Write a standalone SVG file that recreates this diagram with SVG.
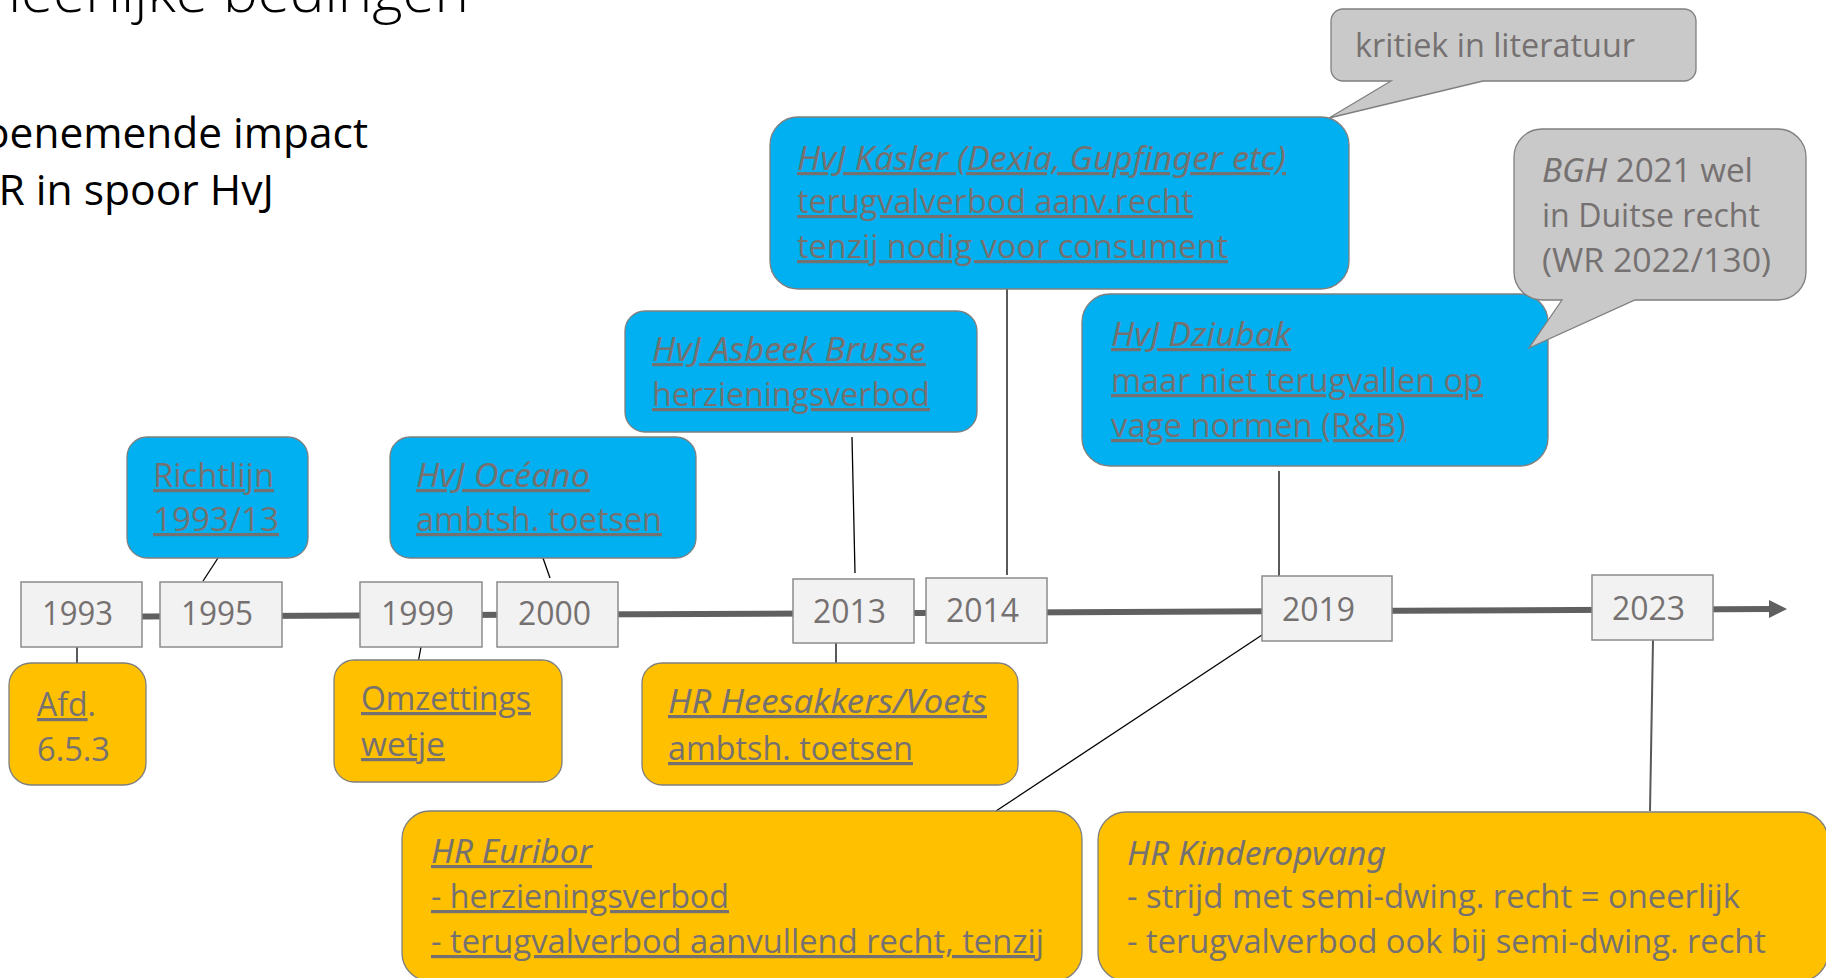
<svg xmlns="http://www.w3.org/2000/svg" width="1826" height="978" viewBox="0 0 1826 978">
<style>
.t{font-family:"Open Sans","Liberation Sans",sans-serif;font-size:32px;fill:#767171}
.u{text-decoration:underline;text-decoration-skip-ink:none}
.i{font-style:italic;font-family:"Noto Sans","Open Sans","Liberation Sans",sans-serif}
.blue{fill:#00B0F0;stroke:#7F7F7F;stroke-width:1.3}
.org{fill:#FFC000;stroke:#7F7F7F;stroke-width:1.3}
.yr{fill:#F2F2F2;stroke:#8C8C8C;stroke-width:1.5}
.cal{fill:#C9C9C9;stroke:#7F7F7F;stroke-width:1.3}
.c{stroke:#000;stroke-width:1.3;fill:none}
.cg{stroke:#595959;stroke-width:2;fill:none}
.h{font-family:"Open Sans","Liberation Sans",sans-serif;fill:#000}
</style>
<g id="heading">
<text class="h" x="-58" y="12" font-size="57" font-weight="300" textLength="527" lengthAdjust="spacingAndGlyphs">Oneerlijke bedingen</text>
<text class="h" x="-31" y="148" font-size="42" textLength="399" lengthAdjust="spacingAndGlyphs">toenemende impact</text>
<text class="h" x="-33" y="205" font-size="42" textLength="307" lengthAdjust="spacingAndGlyphs">HR in spoor HvJ</text>
</g>
<g id="timeline">
<line x1="30" y1="617" x2="1771" y2="609" stroke="#606060" stroke-width="6"/>
<polygon points="1769,600 1787,609 1769,618" fill="#606060"/>
</g>
<g id="connectors">
<line class="c" x1="77" y1="647" x2="77" y2="663"/>
<line class="c" x1="218" y1="558" x2="203" y2="581"/>
<line class="c" x1="421" y1="647" x2="418" y2="663"/>
<line class="c" x1="543" y1="558" x2="550" y2="578"/>
<line class="c" x1="852" y1="437" x2="855" y2="573"/>
<line class="c" x1="836" y1="643" x2="836" y2="665"/>
<line class="cg" x1="1007" y1="289" x2="1007" y2="575"/>
<line class="c" x1="1279" y1="471" x2="1279" y2="576"/>
<line class="c" x1="1262" y1="635" x2="996" y2="811"/>
<line class="cg" x1="1653" y1="640" x2="1650" y2="811"/>
</g>
<g id="y1993"><rect class="yr" x="21" y="582" width="121" height="65"/><text class="t" x="42" y="625" textLength="71" lengthAdjust="spacingAndGlyphs">1993</text></g>
<g id="y1995"><rect class="yr" x="160" y="582" width="122" height="65"/><text class="t" x="181" y="625" textLength="72" lengthAdjust="spacingAndGlyphs">1995</text></g>
<g id="y1999"><rect class="yr" x="360" y="582" width="122" height="65"/><text class="t" x="381" y="625" textLength="73" lengthAdjust="spacingAndGlyphs">1999</text></g>
<g id="y2000"><rect class="yr" x="497" y="582" width="121" height="65"/><text class="t" x="518" y="625" textLength="73" lengthAdjust="spacingAndGlyphs">2000</text></g>
<g id="y2013"><rect class="yr" x="793" y="579" width="121" height="64"/><text class="t" x="813" y="623" textLength="73" lengthAdjust="spacingAndGlyphs">2013</text></g>
<g id="y2014"><rect class="yr" x="926" y="578" width="121" height="65"/><text class="t" x="946" y="622" textLength="73" lengthAdjust="spacingAndGlyphs">2014</text></g>
<g id="y2019"><rect class="yr" x="1262" y="576" width="130" height="65"/><text class="t" x="1282" y="621" textLength="73" lengthAdjust="spacingAndGlyphs">2019</text></g>
<g id="y2023"><rect class="yr" x="1592" y="575" width="121" height="65"/><text class="t" x="1612" y="620" textLength="73" lengthAdjust="spacingAndGlyphs">2023</text></g>
<g id="richtlijn"><rect class="blue" x="127" y="437" width="181" height="121" rx="20"/>
<text class="t u" x="153" y="487" textLength="121" lengthAdjust="spacingAndGlyphs">Richtlijn</text>
<text class="t u" x="153" y="531" textLength="126" lengthAdjust="spacingAndGlyphs">1993/13</text></g>
<g id="oceano"><rect class="blue" x="390" y="437" width="306" height="121" rx="20"/>
<text class="t u i" x="416" y="487" textLength="174" lengthAdjust="spacingAndGlyphs">HvJ Océano</text>
<text class="t u" x="416" y="531" textLength="246" lengthAdjust="spacingAndGlyphs">ambtsh. toetsen</text></g>
<g id="asbeek"><rect class="blue" x="625" y="311" width="352" height="121" rx="20"/>
<text class="t u i" x="652" y="361" textLength="274" lengthAdjust="spacingAndGlyphs">HvJ Asbeek Brusse</text>
<text class="t u" x="652" y="406" textLength="278" lengthAdjust="spacingAndGlyphs">herzieningsverbod</text></g>
<g id="kasler"><rect class="blue" x="770" y="117" width="579" height="172" rx="28"/>
<text class="t u i" x="797" y="170" textLength="489" lengthAdjust="spacingAndGlyphs">HvJ Kásler (Dexia, Gupfinger etc)</text>
<text class="t u" x="797" y="213" textLength="396" lengthAdjust="spacingAndGlyphs">terugvalverbod aanv.recht</text>
<text class="t u" x="797" y="258" textLength="431" lengthAdjust="spacingAndGlyphs">tenzij nodig voor consument</text></g>
<g id="dziubak"><rect class="blue" x="1082" y="294" width="466" height="172" rx="28"/>
<text class="t u i" x="1111" y="346" textLength="180" lengthAdjust="spacingAndGlyphs">HvJ Dziubak</text>
<text class="t u" x="1111" y="392" textLength="372" lengthAdjust="spacingAndGlyphs">maar niet terugvallen op</text>
<text class="t u" x="1111" y="437" textLength="295" lengthAdjust="spacingAndGlyphs">vage normen (R&amp;B)</text></g>
<g id="kritiek"><path class="cal" d="M1343,9 H1684 A12,12 0 0 1 1696,21 V69 A12,12 0 0 1 1684,81 H1483 L1329,118 L1391,81 H1343 A12,12 0 0 1 1331,69 V21 A12,12 0 0 1 1343,9 Z"/>
<text class="t" x="1355" y="57" textLength="280" lengthAdjust="spacingAndGlyphs">kritiek in literatuur</text></g>
<g id="bgh"><path class="cal" d="M1542,129 H1778 A28,28 0 0 1 1806,157 V272 A28,28 0 0 1 1778,300 H1635 L1529,348 L1562,300 H1542 A28,28 0 0 1 1514,272 V157 A28,28 0 0 1 1542,129 Z"/>
<text class="t" x="1542" y="182" textLength="211" lengthAdjust="spacingAndGlyphs"><tspan class="i">BGH</tspan> 2021 wel</text>
<text class="t" x="1542" y="227" textLength="218" lengthAdjust="spacingAndGlyphs">in Duitse recht</text>
<text class="t" x="1542" y="272" textLength="229" lengthAdjust="spacingAndGlyphs">(WR 2022/130)</text></g>
<g id="afd"><rect class="org" x="9" y="663" width="137" height="122" rx="22"/>
<text class="t" x="37" y="716" textLength="59" lengthAdjust="spacingAndGlyphs"><tspan class="u">Afd</tspan>.</text>
<text class="t" x="37" y="761" textLength="73" lengthAdjust="spacingAndGlyphs">6.5.3</text></g>
<g id="omzettings"><rect class="org" x="334" y="660" width="228" height="122" rx="20"/>
<text class="t u" x="361" y="710" textLength="170" lengthAdjust="spacingAndGlyphs">Omzettings</text>
<text class="t u" x="361" y="756" textLength="84" lengthAdjust="spacingAndGlyphs">wetje</text></g>
<g id="heesakkers"><rect class="org" x="642" y="663" width="376" height="122" rx="20"/>
<text class="t u i" x="668" y="713" textLength="319" lengthAdjust="spacingAndGlyphs">HR Heesakkers/Voets</text>
<text class="t u" x="668" y="760" textLength="245" lengthAdjust="spacingAndGlyphs">ambtsh. toetsen</text></g>
<g id="euribor"><rect class="org" x="402" y="811" width="680" height="170" rx="28"/>
<text class="t u i" x="431" y="863" textLength="161" lengthAdjust="spacingAndGlyphs">HR Euribor</text>
<text class="t u" x="431" y="908" textLength="298" lengthAdjust="spacingAndGlyphs">- herzieningsverbod</text>
<text class="t u" x="431" y="953" textLength="613" lengthAdjust="spacingAndGlyphs">- terugvalverbod aanvullend recht, tenzij</text></g>
<g id="kinderopvang"><rect class="org" x="1098" y="812" width="730" height="169" rx="28"/>
<text class="t i" x="1127" y="865" textLength="259" lengthAdjust="spacingAndGlyphs">HR Kinderopvang</text>
<text class="t" x="1127" y="908" textLength="613" lengthAdjust="spacingAndGlyphs">- strijd met semi-dwing. recht = oneerlijk</text>
<text class="t" x="1127" y="953" textLength="639" lengthAdjust="spacingAndGlyphs">- terugvalverbod ook bij semi-dwing. recht</text></g>
</svg>
